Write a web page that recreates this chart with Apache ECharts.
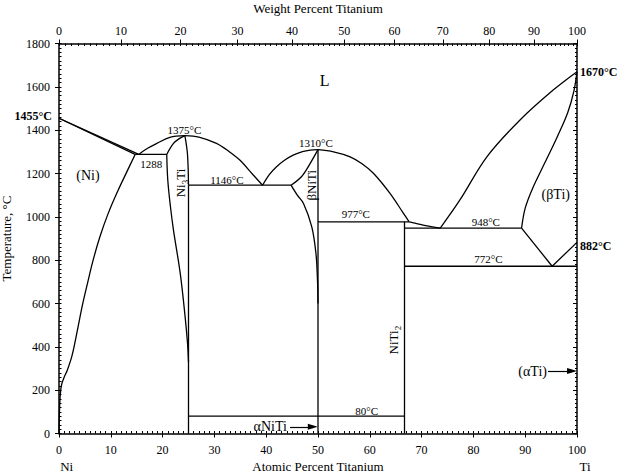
<!DOCTYPE html>
<html><head><meta charset="utf-8">
<script src="https://cdn.jsdelivr.net/npm/echarts@6/dist/echarts.min.js"></script>
<style>html,body{margin:0;padding:0;background:#fff}#c{width:617px;height:476px}</style>
</head><body><div id="c"></div>
<script>
// ---------- axis ticks ----------
const tempTicks = [0, 200, 400, 600, 800, 1000, 1200, 1400, 1600, 1800];
const atTicks = [0, 10, 20, 30, 40, 50, 60, 70, 80, 90, 100];
const wtTicks = [0, 10, 20, 30, 40, 50, 60, 70, 80, 90, 100];

// ---------- phase boundaries: [atomic % Ti, temperature °C] ----------
const niLiquidus = [[0, 1455], [15.4, 1288]];
const niSolidus = [[0, 1455], [14.7, 1288]];
const niSolvus = [[14.7, 1288], [13.0, 1203], [11.4, 1122], [9.5, 1016], [7.9, 908], [6.6, 801], [5.5, 693], [4.5, 590], [3.5, 470], [2.5, 358], [1.6, 292], [1.0, 260], [0.5, 226], [0.25, 180], [0.1, 110], [0, 0]];
const eut1288 = [[14.7, 1288], [20.8, 1288]];
const ni3TiLiqLeft = [[15.4, 1288], [16.8, 1312], [18.9, 1339], [21.4, 1367], [24.3, 1375]];
const ni3TiLiqRight = [[24.3, 1375], [27.0, 1368], [30.4, 1339], [32.8, 1302], [34.9, 1262], [37.5, 1193], [39.3, 1146]];
const ni3TiUpperLeft = [[20.8, 1288], [22.1, 1339], [23.3, 1362], [24.3, 1375]];
const ni3TiUpperRight = [[24.3, 1375], [24.8, 1290], [25, 1146]];
const ni3TiLowerLeft = [[20.8, 1288], [21.0, 1170], [21.5, 1050], [22.1, 939], [23.4, 740], [24.3, 550], [24.8, 420], [25, 330]];
const ni3TiRight = [[25, 1146], [25, 0]];
const eut1146 = [[25, 1146], [44.8, 1146]];
const niTiLiqLeft = [[39.3, 1146], [40.6, 1195], [42.0, 1231], [43.6, 1262], [45.2, 1285], [47.0, 1301], [48.5, 1308], [50, 1310]];
const niTiLiqRight = [[50, 1310], [53.0, 1300], [56.2, 1277], [58.5, 1245], [60.7, 1201], [63.9, 1108], [66.5, 1016], [67.6, 977]];
const niTiUpperLeft = [[44.8, 1146], [46.8, 1185], [48.5, 1247], [50, 1310]];
const niTiLowerLeft = [[44.8, 1146], [46.0, 1100], [47.2, 1062], [48.8, 954], [49.6, 832], [49.9, 708], [50, 600]];
const niTiRight = [[50, 1310], [50, 0]];
const peri977 = [[50, 977], [67.6, 977]];
const niTi2Line = [[66.7, 977], [66.7, 0]];
const liq977to948 = [[67.6, 977], [70.5, 961], [73.6, 948]];
const eut948 = [[66.7, 948], [89.3, 948]];
const tiLiquidus = [[73.6, 948], [77.4, 1078], [82.6, 1277], [89.0, 1447], [95.4, 1585], [100, 1670]];
const tiSolidus = [[100, 1670], [99.4, 1580], [98.2, 1480], [96.2, 1370], [93.6, 1240], [91.4, 1130], [90.0, 1040], [89.3, 948]];
const tiSolvusLeft = [[89.3, 948], [95.2, 772]];
const tiSolvusRight = [[95.2, 772], [100, 882]];
const eutd772 = [[66.7, 772], [100, 772]];
const mart80 = [[25, 80], [66.7, 80]];

const boundaries = [niLiquidus, niSolidus, niSolvus, eut1288, ni3TiLiqLeft, ni3TiLiqRight,
  ni3TiUpperLeft, ni3TiUpperRight, ni3TiLowerLeft, ni3TiRight, eut1146, niTiLiqLeft, niTiLiqRight,
  niTiUpperLeft, niTiLowerLeft, niTiRight, peri977, niTi2Line, liq977to948, eut948, tiLiquidus,
  tiSolidus, tiSolvusLeft, tiSolvusRight, eutd772, mart80];
const curved = [niSolvus, ni3TiLiqLeft, ni3TiLiqRight, ni3TiUpperLeft, ni3TiUpperRight, ni3TiLowerLeft,
  niTiLiqLeft, niTiLiqRight, niTiUpperLeft, niTiLowerLeft, liq977to948, tiLiquidus, tiSolidus];

// ---------- annotations (anchored in data coordinates) ----------
const notes = [
  { text: 'L', x: 51.3, y: 1631, size: 16 },
  { text: '(Ni)', x: 5.6, y: 1193, size: 14 },
  { text: '1288', x: 17.8, y: 1242, size: 11 },
  { text: '1375°C', x: 24.2, y: 1399, size: 11 },
  { text: '1146°C', x: 32.4, y: 1169, size: 11 },
  { text: '1310°C', x: 49.6, y: 1339, size: 11 },
  { text: '977°C', x: 57.3, y: 1012, size: 11 },
  { text: '948°C', x: 82.4, y: 976, size: 11 },
  { text: '(βTi)', x: 95.9, y: 1101, size: 14 },
  { text: '772°C', x: 82.9, y: 804, size: 11 },
  { text: '80°C', x: 59.4, y: 104, size: 11 },
  { text: '{a|Ni}{s|3}{a|Ti}', x: 23.5, y: 1156, size: 13, rotate: 90 },
  { text: 'βNiTi', x: 48.7, y: 1146, size: 13, rotate: 90 },
  { text: '{a|NiTi}{s|2}', x: 64.6, y: 431, size: 13, rotate: 90 },
  { text: '1455°C', x: 0, y: 1466, size: 12, bold: true, align: 'right', dx: -7 },
  { text: '1670°C', x: 100, y: 1668, size: 12, bold: true, align: 'left', dx: 3 },
  { text: '882°C', x: 100, y: 865, size: 12, bold: true, align: 'left', dx: 3 },
  { text: 'αNiTi', x: 44.0, y: 31, size: 14, align: 'right' },
  { text: '(αTi)', x: 94.2, y: 288, size: 14, align: 'right' }
];
const arrows = [[[44.6, 31], [49.0, 31]], [[94.4, 288], [99.05, 288]]];

// ---------- weight% <-> atomic% ----------
const M_TI = 47.867, M_NI = 58.693;
const wtToAt = w => (w / M_TI) / (w / M_TI + (100 - w) / M_NI) * 100;
const atToWt = a => a * M_TI / (a * M_TI + (100 - a) * M_NI) * 100;
const wtMinor = [];
for (let w = 0; w <= 100; w += 1) wtMinor.push(wtToAt(w));

const FONT = 'Liberation Serif';
const black = '#000';
const txt = { color: black, fontFamily: FONT };

function xAx(extra) {
  return Object.assign({
    type: 'value', min: 0, max: 100, splitLine: { show: false },
    axisLine: { onZero: false, lineStyle: { color: black, width: 1.5 } },
    axisTick: { lineStyle: { color: black, width: 1 } },
    axisLabel: Object.assign({ fontSize: 12 }, txt)
  }, extra);
}
function yAx(extra) {
  return Object.assign({
    type: 'value', min: 0, max: 1800, splitLine: { show: false },
    axisLine: { onZero: false, lineStyle: { color: black, width: 1.5 } },
    axisTick: { lineStyle: { color: black, width: 1 } },
    axisLabel: Object.assign({ fontSize: 12 }, txt)
  }, extra);
}

const series = boundaries.map(d => ({
  type: 'line', data: d, showSymbol: false, symbol: 'none', silent: true,
  smooth: curved.includes(d) ? 0.35 : false,
  itemStyle: { color: black },
  lineStyle: { color: black, width: 1.3 }
}));

series.push({
  type: 'line', data: [], silent: true, itemStyle: { color: black },
  markLine: {
    silent: true, animation: false, symbol: ['none', 'triangle'], symbolSize: [6, 10],
    label: { show: false }, itemStyle: { color: black },
    lineStyle: { color: black, type: 'solid', width: 1.2 },
    data: arrows.map(a => [{ coord: a[0] }, { coord: a[1] }])
  }
});

const staticGraphics = [
  { type: 'text', x: 66.7, y: 466.5, silent: true,
    style: { text: 'Ni', fontSize: 13, fontFamily: FONT, fill: black, textAlign: 'center', textVerticalAlign: 'middle' } },
  { type: 'text', x: 585, y: 466.5, silent: true,
    style: { text: 'Ti', fontSize: 13, fontFamily: FONT, fill: black, textAlign: 'center', textVerticalAlign: 'middle' } }
];

const chart = echarts.init(document.getElementById('c'), null, { renderer: 'svg' });
chart.setOption({
  animation: false,
  backgroundColor: '#fff',
  grid: { left: 59, right: 40, top: 43.5, bottom: 42.5, containLabel: false, outerBoundsMode: 'none' },
  xAxis: [
    xAx({ position: 'bottom', interval: 10,
      axisTick: { inside: false, length: 4, lineStyle: { color: black } },
      axisLabel: Object.assign({ fontSize: 12, margin: 10, customValues: atTicks }, txt),
      name: 'Atomic Percent Titanium', nameLocation: 'middle', nameGap: 26,
      nameTextStyle: Object.assign({ fontSize: 13 }, txt) }),
    xAx({ position: 'bottom', interval: 1, axisLine: { show: false, onZero: false },
      axisLabel: { show: false }, axisTick: { inside: true, length: 2.5, lineStyle: { color: black } } }),
    xAx({ position: 'top',
      axisTick: { inside: false, length: 4, customValues: wtTicks.map(wtToAt), lineStyle: { color: black } },
      axisLabel: Object.assign({ fontSize: 12, margin: 7, customValues: wtTicks.map(wtToAt),
        formatter: v => String(Math.round(atToWt(v))) }, txt),
      name: 'Weight Percent Titanium', nameLocation: 'middle', nameGap: 29,
      nameTextStyle: Object.assign({ fontSize: 13 }, txt) }),
    xAx({ position: 'top', axisLine: { show: false, onZero: false }, axisLabel: { show: false },
      axisTick: { inside: true, length: 2.5, customValues: wtMinor, lineStyle: { color: black } } })
  ],
  yAxis: [
    yAx({ position: 'left', interval: 200,
      axisTick: { inside: false, length: 4, lineStyle: { color: black } },
      axisLabel: Object.assign({ fontSize: 12, margin: 9, customValues: tempTicks, formatter: v => String(v) }, txt),
      name: 'Temperature, °C', nameLocation: 'middle', nameGap: 46,
      nameTextStyle: Object.assign({ fontSize: 13 }, txt) }),
    yAx({ position: 'left', interval: 20, axisLine: { show: false, onZero: false },
      axisLabel: { show: false }, axisTick: { inside: true, length: 2.5, lineStyle: { color: black } } }),
    yAx({ position: 'right', interval: 200, axisLabel: { show: false },
      axisTick: { inside: true, length: 4, lineStyle: { color: black } } }),
    yAx({ position: 'right', interval: 20, axisLine: { show: false, onZero: false },
      axisLabel: { show: false }, axisTick: { inside: true, length: 2, lineStyle: { color: black } } })
  ],
  graphic: staticGraphics,
  series: series
});

// place annotation texts through the axes' own scales
const noteGraphics = notes.map(n => {
  const p = chart.convertToPixel({ xAxisIndex: 0, yAxisIndex: 0 }, [n.x, n.y]);
  return {
    type: 'text', x: p[0] + (n.dx || 0), y: p[1], silent: true,
    rotation: n.rotate ? n.rotate * Math.PI / 180 : 0,
    style: {
      text: n.text, fill: black, fontFamily: FONT, fontSize: n.size,
      fontWeight: n.bold ? 'bold' : 'normal',
      textAlign: n.align || 'center', textVerticalAlign: 'middle',
      rich: {
        a: { fontSize: n.size, fontFamily: FONT, fill: black },
        s: { fontSize: 9, fontFamily: FONT, fill: black, verticalAlign: 'bottom', padding: [8, 0, 0, 0] }
      }
    }
  };
});
chart.setOption({ graphic: staticGraphics.concat(noteGraphics) });
</script>
</body></html>
